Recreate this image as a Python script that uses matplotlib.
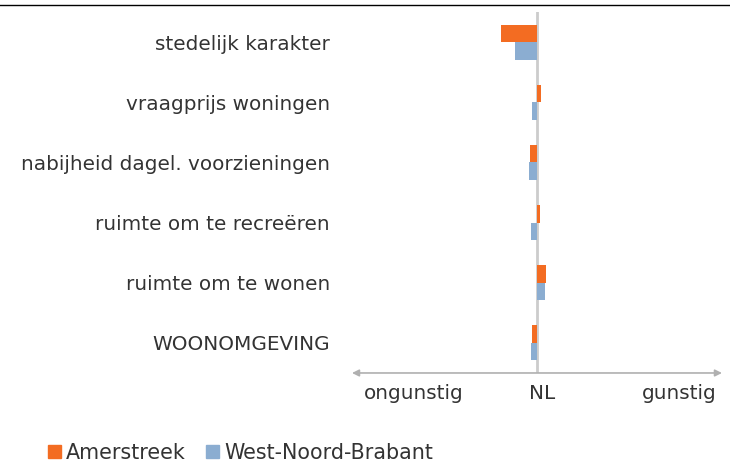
import numpy as np
import matplotlib.pyplot as plt
from matplotlib.lines import Line2D
from matplotlib.patches import Patch

plt.rcParams['font.family'] = ['DejaVu Sans']

categories = ['stedelijk karakter', 'vraagprijs woningen', 'nabijheid dagel. voorzieningen',
              'ruimte om te recreëren', 'ruimte om te wonen', 'WOONOMGEVING']
amerstreek = [-1.95, 0.24, -0.38, 0.18, 0.49, -0.29]
west_nb = [-1.19, -0.25, -0.42, -0.32, 0.45, -0.32]
series_names = ['Amerstreek', 'West-Noord-Brabant']
axis_labels = ['ongunstig', 'NL', 'gunstig']

orange = '#f36c22'
blue = '#8badd1'
txt = '#333333'

fig = plt.figure(figsize=(7.3, 4.66), dpi=100)
ax = fig.add_axes([0.4822, 0.1996, 0.5068, 0.7746])

y = np.arange(len(categories))[::-1]
h = 0.29
ax.barh(y + h / 2, amerstreek, height=h, color=orange)
ax.barh(y - h / 2, west_nb, height=h, color=blue)

ax.set_xlim(-10, 10)
ax.set_ylim(-0.5, 5.5)
ax.axvline(0, color='#cccccc', lw=2, zorder=0)

ax.set_yticks(y)
ax.set_yticklabels(categories, fontsize=14.4, color=txt)
ax.tick_params(axis='y', length=0, pad=16)
ax.set_xticks([])
for s in ax.spines.values():
    s.set_visible(False)

# double arrow along the bottom
ax.annotate('', xy=(10, -0.5), xytext=(-10, -0.5),
            arrowprops=dict(arrowstyle='<|-|>', color='#b0b0b0', lw=1.2,
                            mutation_scale=10, shrinkA=0, shrinkB=0),
            annotation_clip=False)

for xpos, lab in zip([-6.65, 0.27, 7.68], axis_labels):
    ax.text(xpos, -0.058, lab, transform=ax.get_xaxis_transform(),
            ha='center', va='center', fontsize=14.4, color=txt)

# top border line
fig.add_artist(Line2D([0, 1], [0.9903, 0.9903], color='black', lw=1.0,
                      transform=fig.transFigure))

handles = [Patch(color=orange), Patch(color=blue)]
fig.legend(handles, series_names, loc='center left', bbox_to_anchor=(0.066, 0.028),
           ncol=2, frameon=False, fontsize=14.9, handlelength=0.6, handleheight=0.6,
           handletextpad=0.25, columnspacing=1.0, borderaxespad=0, borderpad=0,
           labelcolor=txt)

fig.savefig('out.png', dpi=100)
